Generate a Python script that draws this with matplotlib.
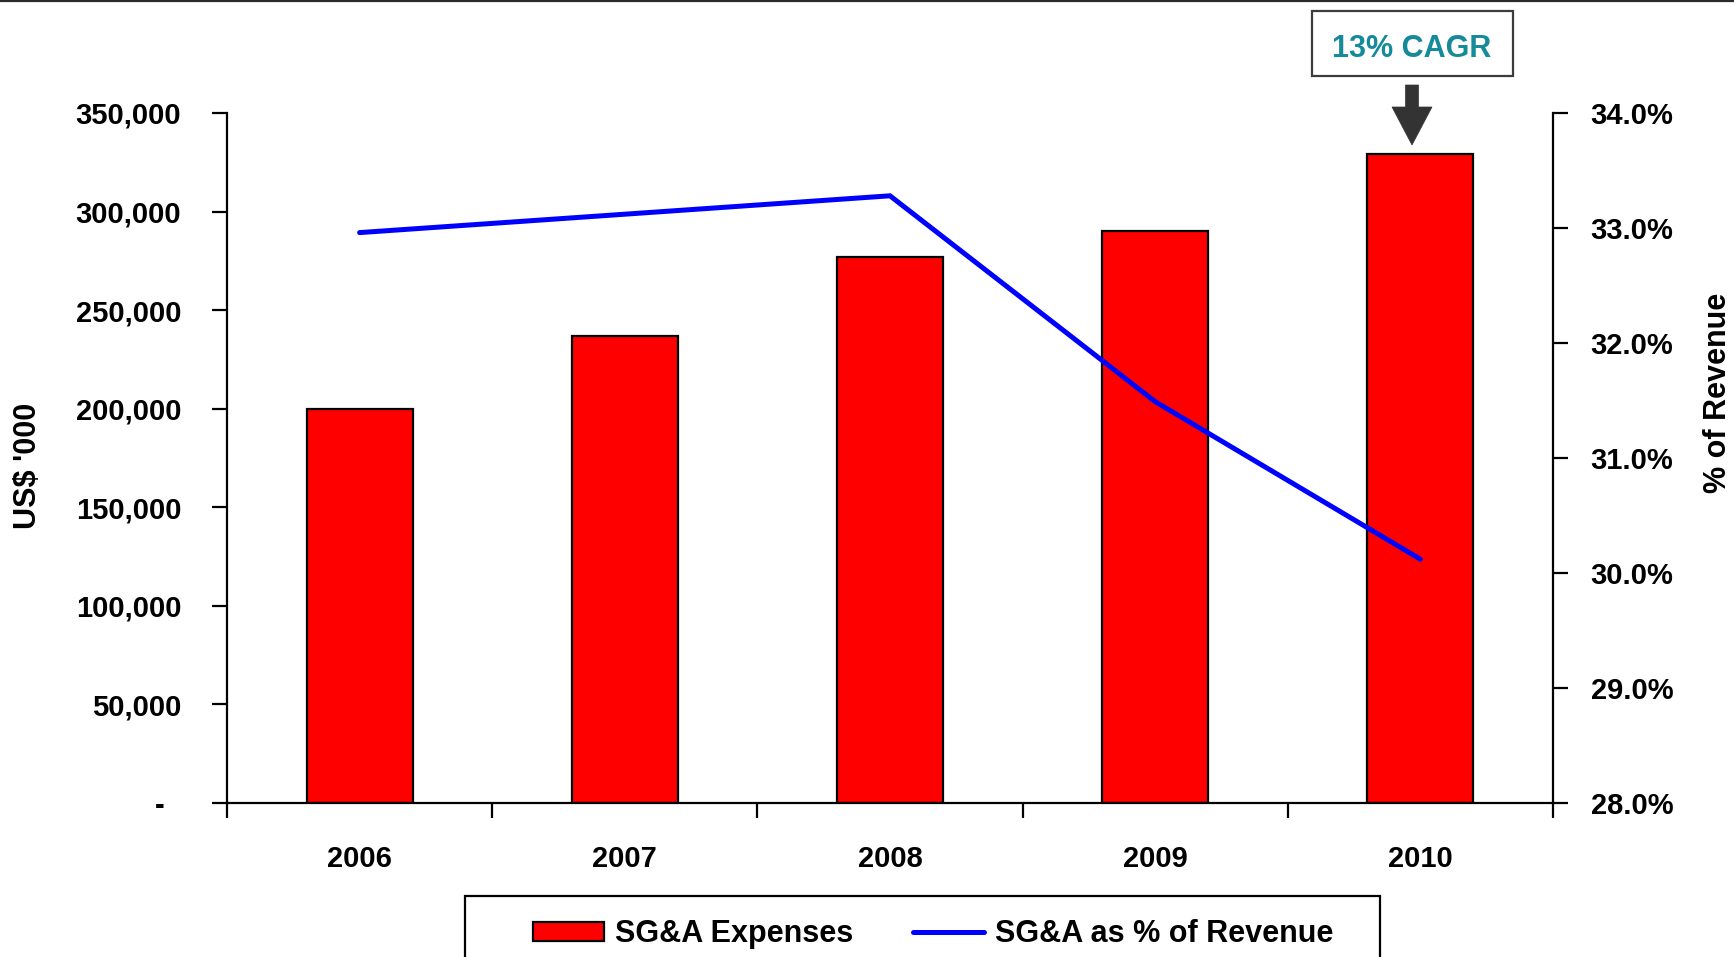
import matplotlib
matplotlib.use("Agg")
import matplotlib.pyplot as plt
from matplotlib.patches import Rectangle, Polygon, Patch
from matplotlib.lines import Line2D
from matplotlib.ticker import FixedLocator, FuncFormatter

# ---- data ----
years = ["2006", "2007", "2008", "2009", "2010"]
sga_expenses = [200000, 237000, 277000, 290000, 329000]
sga_pct_revenue = [32.96, 33.12, 33.28, 31.49, 30.12]
left_ticks = [0, 50000, 100000, 150000, 200000, 250000, 300000, 350000]
right_ticks = [28.0, 29.0, 30.0, 31.0, 32.0, 33.0, 34.0]
cagr_label = "13% CAGR"

plt.rcParams['font.family'] = ['Liberation Sans', 'DejaVu Sans']
plt.rcParams['font.weight'] = 'bold'

W, H = 1734, 957
fig = plt.figure(figsize=(W / 100, H / 100), dpi=100)
fig.patch.set_facecolor('white')

def fx(px):
    return px / W

def fy(py):
    return 1 - py / H

ax = fig.add_axes([fx(227), fy(803), fx(1553) - fx(227), fy(113) - fy(803)])
x = list(range(len(years)))
ax.bar(x, sga_expenses, width=0.4, color='#FF0000', edgecolor='black', linewidth=1.6, zorder=2)
ax.set_xlim(-0.5, len(years) - 0.5)
ax.set_ylim(0, 350000)
ax.yaxis.set_major_locator(FixedLocator(left_ticks))
ax.yaxis.set_major_formatter(FuncFormatter(lambda v, p: "-  " if v == 0 else f"{int(v):,}"))
ax.set_xticks(x)
ax.set_xticklabels(years)
ax.set_xticks([i - 0.5 for i in range(len(years) + 1)], minor=True)
ax.tick_params(axis='x', which='major', length=0, pad=30, labelsize=21)
ax.tick_params(axis='x', which='minor', length=11, width=1.6, direction='out')
ax.tick_params(axis='y', which='major', length=11, width=1.6, direction='out', pad=22, labelsize=21)
for lab in ax.get_xticklabels() + ax.get_yticklabels():
    lab.set_fontweight('bold')
ax.spines['top'].set_visible(False)
ax.spines['right'].set_visible(False)
for s in ['left', 'bottom']:
    ax.spines[s].set_linewidth(1.6)

ax2 = ax.twinx()
ax2.plot(x, sga_pct_revenue, color='#0000FF', linewidth=3.6, solid_capstyle='round',
         solid_joinstyle='miter', zorder=3)
ax2.set_ylim(28, 34)
ax2.yaxis.set_major_locator(FixedLocator(right_ticks))
ax2.yaxis.set_major_formatter(FuncFormatter(lambda v, p: f"{v:.1f}%"))
ax2.tick_params(axis='y', which='major', length=11, width=1.6, direction='out', pad=16, labelsize=21)
for lab in ax2.get_yticklabels():
    lab.set_fontweight('bold')
ax2.spines['top'].set_visible(False)
ax2.spines['left'].set_visible(False)
ax2.spines['bottom'].set_visible(False)
ax2.spines['right'].set_linewidth(1.6)

# axis titles
fig.text(fx(28), fy(466), "US$ '000", rotation=90, ha='center', va='center',
         fontsize=22, fontweight='bold')
fig.text(fx(1718), fy(393), "% of Revenue", rotation=90, ha='center', va='center',
         fontsize=22, fontweight='bold')

# top rule
fig.add_artist(Line2D([0, 1], [fy(1), fy(1)], transform=fig.transFigure,
                      color='#2a2a2a', linewidth=1.6))

# CAGR box
fig.add_artist(Rectangle((fx(1312), fy(76)), fx(1513) - fx(1312), fy(11) - fy(76),
                         transform=fig.transFigure, facecolor='white',
                         edgecolor='#3c3c3c', linewidth=1.6))
fig.text(fx(1412), fy(49), cagr_label, ha='center', va='center', fontsize=22,
         fontweight='bold', color='#158A9A')

# arrow
arrow_pts = [(1405.5, 85), (1418.5, 85), (1418.5, 107), (1432, 107), (1412, 145),
             (1392, 107), (1405.5, 107)]
fig.add_artist(Polygon([(fx(a), fy(b)) for a, b in arrow_pts], closed=True,
                       transform=fig.transFigure, facecolor='#333333', edgecolor='#333333',
                       linewidth=0.5))

# legend frame (cut by the bottom edge)
fig.add_artist(Rectangle((fx(465), fy(975)), fx(1380) - fx(465), fy(896) - fy(975),
                         transform=fig.transFigure, facecolor='white',
                         edgecolor='black', linewidth=1.6))
handles = [Patch(facecolor='#FF0000', edgecolor='black', linewidth=1.6),
           Line2D([0], [0], color='#0000FF', linewidth=3.6, solid_capstyle='round')]
leg = fig.legend(handles, ["SG&A Expenses", "SG&A as % of Revenue"], ncol=2,
                 loc='center left', bbox_to_anchor=(fx(533), fy(934)),
                 frameon=False, borderpad=0, borderaxespad=0,
                 fontsize=22, handlelength=2.32, handleheight=0.6,
                 handletextpad=0.36, columnspacing=1.96,
                 prop={'weight': 'bold', 'size': 22})

fig.savefig("out.png", dpi=100, facecolor='white')
